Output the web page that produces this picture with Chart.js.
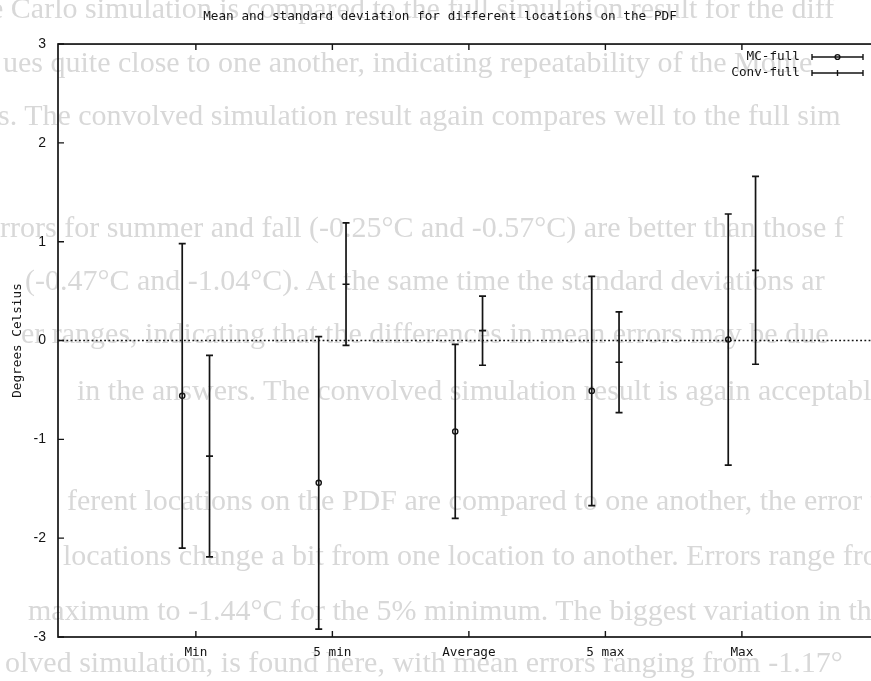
<!DOCTYPE html>
<html>
<head>
<meta charset="UTF-8">
<script src="https://cdn.jsdelivr.net/npm/chart.js"></script>
<style>
  body { margin: 0; width: 871px; height: 681px; overflow: hidden; background: #fff; position: relative; }
  .scan { position: absolute; font-family: "Liberation Serif", serif; font-size: 30px; line-height: 32px; color: #d8d8d8; white-space: nowrap; filter: blur(0.6px); }
  #wrap { position: absolute; left: 0; top: 0; }
</style>
</head>
<body>
<div id="scan"></div>
<div id="wrap"><canvas id="chart" width="884" height="681"></canvas></div>
<script>
// chart data
const categories = ['Min', '5 min', 'Average', '5 max', 'Max'];
const mcMean = [-0.56, -1.44, -0.92, -0.51, 0.01];
const mcStd = [1.54, 1.48, 0.88, 1.16, 1.27];
const convMean = [-1.17, 0.57, 0.10, -0.22, 0.71];
const convStd = [1.02, 0.62, 0.35, 0.51, 0.95];
const yTicks = [-3, -2, -1, 0, 1, 2, 3];
const seriesNames = ['MC-full', 'Conv-full'];

// faded page text that shows through the scan
const pageText = [
  'e Carlo simulation is compared to the full simulation result for the diff',
  'ues quite close to one another, indicating repeatability of the Monte',
  's. The convolved simulation result again compares well to the full sim',
  'rrors for summer and fall (-0.25°C and -0.57°C) are better than those f',
  '(-0.47°C and -1.04°C). At the same time the standard deviations ar',
  'er ranges, indicating that the differences in mean errors may be due',
  'in the answers. The convolved simulation result is again acceptabl',
  'ferent locations on the PDF are compared to one another, the error fo',
  'locations change a bit from one location to another. Errors range fro',
  'maximum to -1.44°C for the 5% minimum. The biggest variation in th',
  'olved simulation, is found here, with mean errors ranging from -1.17°'
];
const pageTextPos = [[-10, 8], [3, 62], [-2, 115], [0, 227], [25, 280], [21, 333],
  [77, 390], [67, 500], [63, 555], [28, 610], [5, 662]];

const scan = document.getElementById('scan');
pageText.forEach((t, i) => {
  const d = document.createElement('div');
  d.className = 'scan';
  d.textContent = t;
  d.style.left = pageTextPos[i][0] + 'px';
  d.style.top = (pageTextPos[i][1] - 16) + 'px';
  scan.appendChild(d);
});

const INK = '#141414';
const MONO = "'DejaVu Sans Mono', monospace";
const OFFSET = 0.1;

const gnuplotFrame = {
  id: 'gnuplotFrame',
  beforeDatasetsDraw(chart) {
    const ctx = chart.ctx;
    const { left, top, right, bottom } = chart.chartArea;
    const xs = chart.scales.x, ys = chart.scales.y;
    ctx.save();
    ctx.strokeStyle = INK;
    ctx.lineWidth = 1.7;
    ctx.strokeRect(left, top, right - left, bottom - top);

    ctx.lineWidth = 1.4;
    ctx.beginPath();
    yTicks.forEach(v => {
      const y = ys.getPixelForValue(v);
      ctx.moveTo(left, y); ctx.lineTo(left + 6, y);
      ctx.moveTo(right, y); ctx.lineTo(right - 6, y);
    });
    categories.forEach((c, i) => {
      const x = xs.getPixelForValue(i + 1);
      ctx.moveTo(x, bottom); ctx.lineTo(x, bottom - 6);
      ctx.moveTo(x, top); ctx.lineTo(x, top + 6);
    });
    ctx.stroke();

    // dotted zero axis
    const y0 = ys.getPixelForValue(0);
    ctx.setLineDash([1.8, 2.4]);
    ctx.lineWidth = 1.6;
    ctx.beginPath();
    ctx.moveTo(left, y0); ctx.lineTo(right, y0);
    ctx.stroke();
    ctx.setLineDash([]);

    // error bars
    const series = [[mcMean, mcStd, -OFFSET], [convMean, convStd, OFFSET]];
    ctx.lineWidth = 1.7;
    ctx.beginPath();
    series.forEach(([mean, sd, off]) => {
      mean.forEach((m, i) => {
        const x = xs.getPixelForValue(i + 1 + off);
        const yt = ys.getPixelForValue(m + sd[i]);
        const yb = ys.getPixelForValue(m - sd[i]);
        ctx.moveTo(x, yt); ctx.lineTo(x, yb);
        ctx.moveTo(x - 3.5, yt); ctx.lineTo(x + 3.5, yt);
        ctx.moveTo(x - 3.5, yb); ctx.lineTo(x + 3.5, yb);
      });
    });
    ctx.stroke();
    ctx.restore();
  },
  afterDraw(chart) {
    // key, drawn the gnuplot way: label then a horizontal error bar sample
    const ctx = chart.ctx;
    ctx.save();
    ctx.font = '12.7px ' + MONO;
    ctx.fillStyle = INK;
    ctx.strokeStyle = INK;
    ctx.lineWidth = 1.4;
    ctx.textAlign = 'right';
    ctx.textBaseline = 'middle';
    seriesNames.forEach((name, k) => {
      const y = 57 + k * 16;
      ctx.fillText(name, 800, y);
      ctx.beginPath();
      ctx.moveTo(812, y); ctx.lineTo(863, y);
      ctx.moveTo(812, y - 3); ctx.lineTo(812, y + 3);
      ctx.moveTo(863, y - 3); ctx.lineTo(863, y + 3);
      if (k === 1) { ctx.moveTo(837.5, y - 3); ctx.lineTo(837.5, y + 3); }
      ctx.stroke();
      if (k === 0) {
        ctx.beginPath();
        ctx.arc(837.5, y, 2.4, 0, Math.PI * 2);
        ctx.stroke();
      }
    });
    ctx.restore();
  }
};

new Chart(document.getElementById('chart'), {
  type: 'scatter',
  data: {
    datasets: [
      {
        label: seriesNames[0],
        data: mcMean.map((m, i) => ({ x: i + 1 - OFFSET, y: m })),
        pointStyle: 'circle',
        pointRadius: 2.6,
        borderWidth: 1.4,
        borderColor: INK,
        backgroundColor: 'rgba(0,0,0,0)',
        showLine: false
      },
      {
        label: seriesNames[1],
        data: convMean.map((m, i) => ({ x: i + 1 + OFFSET, y: m })),
        pointStyle: 'line',
        pointRadius: 3.5,
        borderWidth: 1.6,
        borderColor: INK,
        showLine: false
      }
    ]
  },
  options: {
    responsive: false,
    animation: false,
    devicePixelRatio: 1,
    layout: { padding: { top: 0, right: 4, bottom: 0, left: 0 } },
    plugins: {
      legend: { display: false },
      tooltip: { enabled: false },
      title: {
        display: true,
        text: 'Mean and standard deviation for different locations on the PDF',
        color: INK,
        font: { family: MONO, size: 12.7, weight: 'normal' },
        padding: { top: 9.4, bottom: 19.4 }
      }
    },
    scales: {
      x: {
        type: 'linear',
        min: -0.01,
        max: 6,
        grid: { display: false, drawTicks: false },
        border: { display: false },
        afterBuildTicks: s => { s.ticks = categories.map((c, i) => ({ value: i + 1 })); },
        afterFit: s => { s.height = 44; },
        ticks: {
          autoSkip: false,
          maxRotation: 0,
          padding: 8,
          color: INK,
          font: { family: MONO, size: 12.7 },
          callback: v => categories[v - 1] || ''
        }
      },
      y: {
        min: -3,
        max: 3,
        grid: { display: false, drawTicks: false },
        border: { display: false },
        afterBuildTicks: s => { s.ticks = yTicks.map(v => ({ value: v })); },
        afterFit: s => { s.width = 58; },
        ticks: {
          padding: 12,
          color: INK,
          font: { family: "'Liberation Sans', sans-serif", size: 14 },
          callback: v => String(v)
        },
        title: {
          display: true,
          text: 'Degrees Celsius',
          color: INK,
          font: { family: MONO, size: 12.7 },
          padding: { top: 10, bottom: 0 }
        }
      }
    }
  },
  plugins: [gnuplotFrame]
});
</script>
</body>
</html>
